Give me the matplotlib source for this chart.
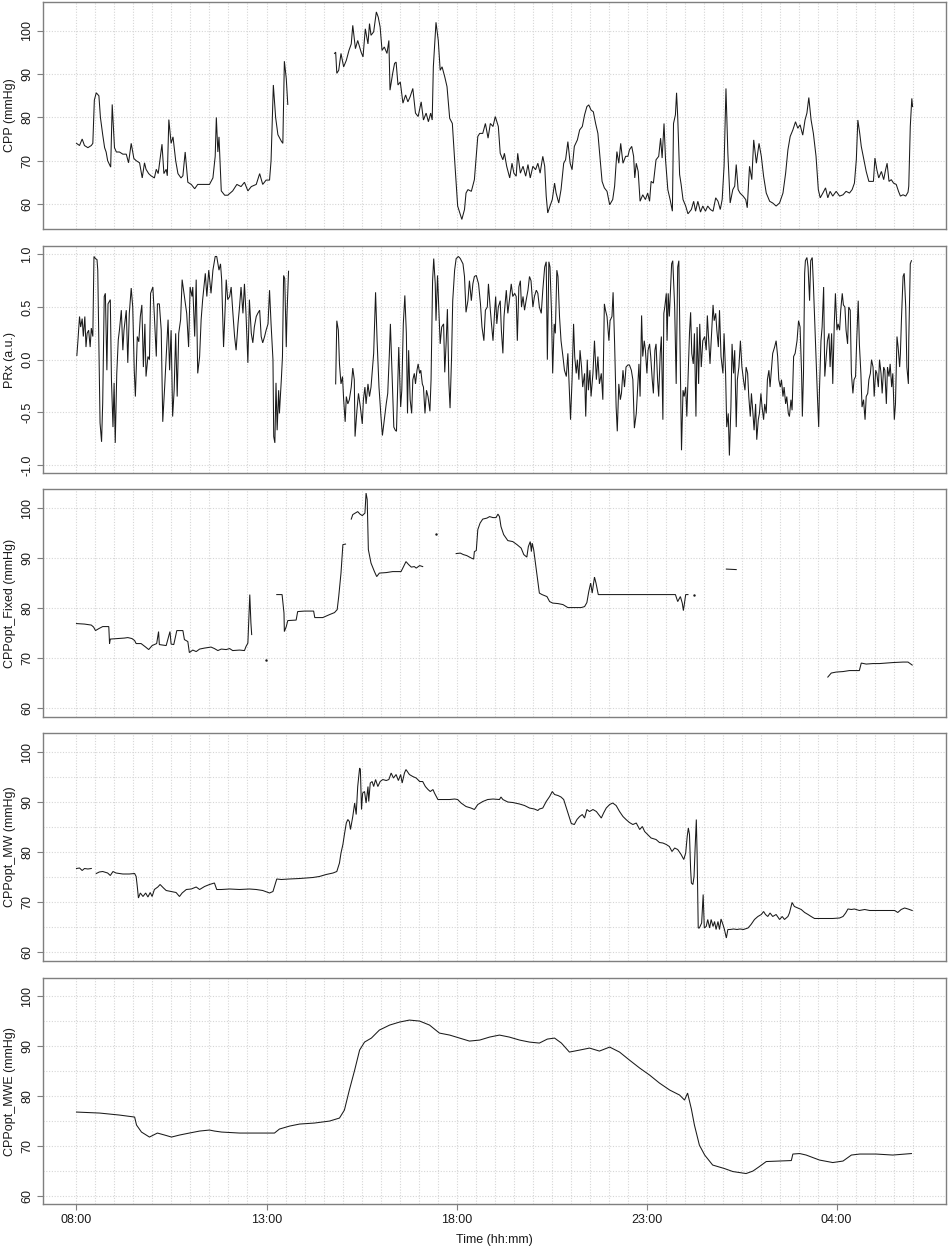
import numpy as np
import matplotlib
matplotlib.use("Agg")
import matplotlib.pyplot as plt

plt.rcParams['font.family'] = ['Liberation Sans', 'DejaVu Sans']
plt.rcParams['axes.unicode_minus'] = False

# time in hours after 08:00, value ; None marks a gap in the recording
cpp = [
    (0.00, 74), (0.08, 73.5), (0.15, 75), (0.21, 73.5), (0.30, 73), (0.39, 73.5), (0.43, 74), (0.47, 84), (0.52, 85.7), (0.59, 85),
    (0.63, 80), (0.69, 76), (0.74, 73), (0.78, 72), (0.82, 70), (0.90, 68.5), (0.94, 83), (1.00, 73), (1.05, 72), (1.13, 72),
    (1.22, 71.5), (1.31, 71.5), (1.37, 69.5), (1.44, 74), (1.51, 70.5), (1.57, 70), (1.66, 69.5), (1.73, 66), (1.79, 69.5), (1.83, 68),
    (1.90, 67), (1.96, 66.5), (2.05, 66), (2.10, 68), (2.15, 67), (2.25, 73.8), (2.30, 67), (2.36, 68), (2.39, 66.5), (2.43, 79.5),
    (2.49, 74), (2.54, 75.5), (2.61, 70), (2.67, 67), (2.75, 66), (2.80, 66.5), (2.86, 72), (2.93, 65), (3.02, 64.5), (3.11, 63.5),
    (3.19, 64.5), (3.28, 64.5), (3.41, 64.5), (3.50, 64.5), (3.59, 66), (3.65, 71), (3.68, 80), (3.72, 72), (3.75, 75.5), (3.81, 63),
    (3.90, 62), (3.98, 62), (4.11, 63), (4.22, 64.5), (4.33, 64), (4.42, 65), (4.51, 63), (4.60, 64), (4.73, 64.5), (4.82, 67),
    (4.90, 64.5), (4.99, 65.5), (5.08, 65.5), (5.12, 70), (5.18, 87.5), (5.24, 80), (5.30, 76), (5.39, 74.5), (5.43, 74), (5.47, 93),
    (5.52, 89), (5.56, 83), (6.2, None),
    (6.79, 94.8), (6.82, 95.1), (6.85, 90.2), (6.90, 90.9), (6.96, 94.8), (7.03, 91.7), (7.10, 93.2), (7.17, 95.5), (7.23, 97), (7.27, 101.3),
    (7.34, 95.9), (7.40, 97.8), (7.49, 95.1), (7.54, 94), (7.60, 100.5), (7.67, 97), (7.71, 101.7), (7.75, 99), (7.82, 99.8), (7.89, 104.4),
    (7.94, 103.2), (7.99, 100.9), (8.04, 95.5), (8.10, 96.3), (8.17, 94.8), (8.22, 97.8), (8.25, 86.3), (8.32, 90.2), (8.37, 92.5), (8.41, 92.8),
    (8.46, 87.5), (8.52, 88.2), (8.59, 83.3), (8.66, 85.2), (8.72, 83.6), (8.78, 84.8), (8.85, 86.7), (8.92, 81), (8.99, 80.2), (9.07, 83.6),
    (9.13, 79.4), (9.20, 81), (9.26, 79), (9.32, 81), (9.36, 79.4), (9.39, 91.7), (9.43, 97.8), (9.46, 102), (9.52, 97.8), (9.57, 90.9),
    (9.62, 91.7), (9.69, 89.4), (9.75, 87.1), (9.82, 79.8), (9.89, 78.6), (9.95, 70.2), (10.03, 59.5), (10.14, 56.4), (10.21, 58.7), (10.25, 62.5),
    (10.30, 63.3), (10.39, 62.9), (10.47, 65.6), (10.56, 75.6), (10.61, 76.3), (10.69, 76.3), (10.76, 78.6), (10.83, 75.2), (10.89, 78.6), (10.96, 77.9),
    (11.02, 80.2), (11.10, 77.9), (11.15, 71.7), (11.22, 70.2), (11.26, 71.7), (11.32, 68.7), (11.40, 66), (11.46, 69.4), (11.51, 67.1), (11.57, 66.4),
    (11.61, 71.7), (11.68, 67.1), (11.75, 68.7), (11.82, 66.4), (11.88, 69.1), (11.94, 66), (12.01, 68.7), (12.08, 67.9), (12.14, 69.4), (12.20, 67.1),
    (12.27, 71), (12.32, 68.7), (12.36, 61.8), (12.40, 57.9), (12.46, 59.5), (12.52, 61), (12.58, 64.8), (12.62, 62.5), (12.69, 60.2), (12.75, 63.3),
    (12.82, 69.4), (12.87, 70.2), (12.93, 74.4), (12.99, 69.4), (13.04, 67.9), (13.10, 73.3), (13.18, 74.8), (13.24, 77.1), (13.31, 77.9), (13.37, 80.6),
    (13.43, 82.5), (13.48, 82.9), (13.54, 81.7), (13.60, 81.3), (13.66, 78.6), (13.72, 76.3), (13.78, 70.2),
    (13.83, 65.2), (13.89, 63.7), (13.96, 62.9), (14.03, 59.8), (14.11, 61), (14.16, 64.1), (14.22, 72.1), (14.27, 69.4), (14.32, 74),
    (14.38, 69.4), (14.45, 71), (14.51, 71), (14.55, 72.5), (14.61, 73.3), (14.66, 71), (14.69, 66), (14.73, 69.4), (14.78, 67.5), (14.83, 60.6),
    (14.90, 62.1), (14.97, 61), (15.03, 62.5), (15.08, 60.6), (15.12, 65.2), (15.18, 64.8), (15.25, 70.2), (15.32, 71), (15.37, 75.2), (15.41, 70.6),
    (15.46, 78.6), (15.50, 70.2), (15.56, 63.3), (15.62, 61), (15.68, 58.3), (15.71, 78.6), (15.76, 80.6), (15.79, 85.7), (15.82, 80.2), (15.87, 66.8),
    (15.91, 64.5), (15.96, 61), (16.03, 59.5), (16.09, 57.7), (16.18, 58.7), (16.24, 60.6), (16.29, 58.3), (16.35, 60.6), (16.42, 58.1), (16.48, 59.5),
    (16.55, 58.3), (16.61, 59.5), (16.68, 58.7), (16.75, 58.3), (16.82, 61.4), (16.88, 60.6), (16.94, 58.7), (16.99, 61), (17.04, 68.7), (17.09, 86.7),
    (17.14, 71.7), (17.20, 60.2), (17.27, 63.3), (17.32, 64.1), (17.36, 69.1), (17.41, 63.3), (17.46, 62.5), (17.54, 61.8), (17.61, 61), (17.65, 59.1),
    (17.71, 68.7), (17.77, 65.6), (17.82, 74.8), (17.89, 69.4), (17.96, 74), (18.02, 71), (18.08, 66.4), (18.15, 62.5), (18.24, 60.6), (18.32, 60.2),
    (18.41, 59.5), (18.50, 60.2), (18.59, 62.5), (18.66, 67.1), (18.72, 72.5), (18.78, 75.6), (18.85, 77.1), (18.92, 79), (18.98, 77.5), (19.04, 78.3),
    (19.11, 75.9), (19.17, 79.4), (19.22, 81), (19.27, 84.6), (19.33, 79.4), (19.39, 76.3), (19.46, 71), (19.52, 63.3), (19.57, 61.4), (19.64, 62.5),
    (19.71, 63.7), (19.77, 61.4), (19.83, 62.9), (19.90, 61.8), (19.99, 62.9), (20.08, 61.8), (20.17, 62.1), (20.25, 62.9), (20.34, 62.5), (20.41, 63.3),
    (20.47, 64.8), (20.52, 70.2), (20.56, 79.4), (20.61, 76.3), (20.65, 73.3), (20.71, 70.6), (20.78, 67.5), (20.85, 65.2), (20.91, 65.2), (20.97, 65.2),
    (21.01, 70.6), (21.06, 67.9), (21.11, 66), (21.18, 67.5), (21.24, 65.6), (21.29, 67.9), (21.33, 69.4), (21.38, 65.2), (21.44, 65.6), (21.50, 64.8),
    (21.57, 64.5), (21.63, 62.9), (21.68, 61.8), (21.75, 62.1), (21.82, 61.8), (21.88, 62.7), (21.90, 64.1), (21.94, 77.9), (21.98, 84.4), (22.00, 82.5),
]

prx = [
    (0.01, 0.04), (0.04, 0.19), (0.08, 0.41), (0.11, 0.31), (0.15, 0.39), (0.18, 0.22), (0.22, 0.41), (0.25, 0.12), (0.28, 0.25), (0.32, 0.28),
    (0.36, 0.12), (0.39, 0.30), (0.43, 0.22), (0.46, 0.98), (0.50, 0.96), (0.54, 0.95), (0.56, 0.85), (0.59, 0.12), (0.62, -0.6), (0.66, -0.78),
    (0.69, -0.41), (0.73, 0.6), (0.76, 0.63), (0.80, -0.10), (0.83, 0.53), (0.89, 0.57), (0.92, -0.19), (0.96, -0.64), (0.99, -0.22), (1.02, -0.79),
    (1.06, -0.13), (1.10, 0.19), (1.13, 0.28), (1.18, 0.47), (1.22, 0.09), (1.25, 0.28), (1.31, 0.47), (1.35, -0.03), (1.39, 0.44), (1.44, 0.68),
    (1.48, 0.50), (1.52, -0.10), (1.55, -0.35), (1.60, 0.22), (1.64, 0.17), (1.68, 0.41), (1.72, 0.52), (1.76, -0.07), (1.80, 0.34), (1.83, -0.16),
    (1.88, 0.03), (1.92, 0.0), (1.95, 0.63), (2.01, 0.69), (2.05, 0.41), (2.10, 0.03), (2.13, 0.53), (2.18, 0.53), (2.23, 0.28), (2.27, -0.59),
    (2.32, -0.26), (2.36, 0.03), (2.41, 0.38), (2.45, -0.10), (2.49, 0.28), (2.53, -0.54), (2.57, -0.29), (2.61, 0.25), (2.65, -0.35), (2.69, 0.25),
    (2.74, 0.38), (2.78, 0.76), (2.84, 0.6), (2.90, 0.44), (2.95, 0.12), (2.99, 0.69), (3.04, 0.6), (3.06, 0.69), (3.11, 0.22), (3.15, 0.76),
    (3.19, -0.13), (3.24, 0.03), (3.28, 0.38), (3.32, 0.57), (3.39, 0.82), (3.43, 0.6), (3.48, 0.85), (3.54, 0.63), (3.59, 0.85), (3.65, 0.98),
    (3.69, 0.98), (3.75, 0.85), (3.79, 0.91), (3.82, 0.76), (3.87, 0.12), (3.90, 0.38), (3.94, 0.76), (3.98, 0.57), (4.03, 0.6), (4.07, 0.69),
    (4.11, 0.47), (4.16, 0.22), (4.20, 0.09), (4.25, 0.34), (4.29, 0.50), (4.33, 0.69), (4.38, 0.44), (4.42, 0.72), (4.46, 0.44), (4.51, -0.03),
    (4.55, 0.57), (4.60, 0.25), (4.64, 0.16), (4.68, 0.31), (4.73, 0.41), (4.77, 0.44), (4.82, 0.47), (4.86, 0.22), (4.90, 0.16), (4.95, 0.22),
    (4.99, 0.28), (5.04, 0.34), (5.08, 0.66), (5.12, 0.34), (5.17, 0.0), (5.19, -0.73), (5.22, -0.79), (5.25, -0.22), (5.28, -0.67), (5.32, -0.29),
    (5.34, -0.51), (5.39, -0.19), (5.42, 0.03), (5.45, 0.8), (5.48, 0.77), (5.52, 0.12), (5.54, 0.44), (5.58, 0.84), (6.2, None),
    (6.82, -0.23), (6.85, 0.37), (6.89, 0.28), (6.92, -0.04), (6.96, -0.23), (7.00, -0.16), (7.03, -0.38), (7.07, -0.59), (7.10, -0.35), (7.14, -0.42),
    (7.18, -0.38), (7.23, -0.26), (7.27, -0.08), (7.31, -0.19), (7.33, -0.73), (7.38, -0.48), (7.42, -0.32), (7.47, -0.45), (7.52, -0.61), (7.55, -0.38),
    (7.59, -0.26), (7.62, -0.42), (7.67, -0.23), (7.71, -0.35), (7.75, -0.26), (7.82, 0.06), (7.87, 0.64), (7.91, 0.18), (7.96, -0.26), (8.01, -0.53),
    (8.05, -0.72), (8.10, -0.57), (8.15, -0.42), (8.19, -0.32), (8.23, 0.03), (8.26, 0.34), (8.31, -0.19), (8.35, -0.64), (8.39, -0.67), (8.42, -0.68),
    (8.45, -0.26), (8.48, 0.12), (8.53, -0.45), (8.56, -0.29), (8.60, 0.34), (8.64, 0.61), (8.68, 0.25), (8.71, -0.51), (8.74, 0.09), (8.78, -0.38),
    (8.82, -0.51), (8.85, -0.19), (8.89, -0.13), (8.92, -0.23), (8.96, -0.10), (8.99, -0.04), (9.03, -0.13), (9.06, -0.10), (9.10, -0.23), (9.13, -0.26),
    (9.17, -0.51), (9.21, -0.29), (9.25, -0.35), (9.30, -0.49), (9.33, -0.19), (9.37, 0.75), (9.40, 0.96), (9.44, 0.72), (9.46, 0.37), (9.50, 0.80),
    (9.54, 0.44), (9.57, 0.15), (9.61, 0.31), (9.66, 0.34), (9.69, -0.12), (9.73, 0.18), (9.76, 0.48), (9.80, -0.23), (9.83, -0.46), (9.87, 0.03),
    (9.90, 0.56), (9.95, 0.85), (9.99, 0.96), (10.05, 0.98), (10.10, 0.96), (10.17, 0.91), (10.21, 0.79), (10.25, 0.45), (10.30, 0.56), (10.34, 0.75),
    (10.39, 0.56), (10.43, 0.72), (10.47, 0.79), (10.52, 0.80), (10.58, 0.72), (10.63, 0.53), (10.67, 0.31), (10.72, 0.18), (10.76, 0.47), (10.81, 0.50),
    (10.84, 0.72), (10.89, 0.47), (10.92, 0.34), (10.96, 0.18), (11.00, 0.44), (11.03, 0.60), (11.06, 0.34), (11.10, 0.50), (11.15, 0.56), (11.18, 0.28),
    (11.22, 0.06), (11.25, 0.41), (11.31, 0.66), (11.35, 0.44), (11.39, 0.56), (11.44, 0.72), (11.48, 0.60), (11.53, 0.63), (11.57, 0.60), (11.60, 0.18),
    (11.64, 0.69), (11.68, 0.75), (11.71, 0.50), (11.75, 0.60), (11.79, 0.47), (11.83, 0.56), (11.88, 0.66), (11.92, 0.79), (11.96, 0.75), (12.01, 0.50),
    (12.05, 0.60), (12.10, 0.66), (12.14, 0.63), (12.18, 0.50), (12.23, 0.44), (12.27, 0.66), (12.32, 0.88), (12.36, 0.93), (12.39, 0.0), (12.43, 0.93),
    (12.46, 0.88), (12.50, 0.44), (12.53, -0.13), (12.57, 0.34), (12.60, 0.25), (12.64, 0.85), (12.67, 0.79), (12.71, 0.41), (12.75, 0.18), (12.80, 0.03),
    (12.84, -0.10), (12.89, -0.16), (12.93, 0.06), (12.97, -0.29), (13.00, -0.57), (13.04, -0.19), (13.08, 0.34), (13.11, 0.03), (13.15, -0.13), (13.18, 0.0),
    (13.22, -0.19), (13.25, 0.09), (13.29, -0.07), (13.32, -0.26), (13.37, -0.13), (13.40, -0.54), (13.44, 0.0), (13.47, -0.29), (13.51, -0.10), (13.54, -0.35),
    (13.59, -0.13), (13.63, 0.18), (13.68, -0.19), (13.72, 0.03), (13.76, -0.23), (13.81, -0.13), (13.85, -0.38), (13.89, 0.53), (13.92, 0.47), (13.96, 0.41),
    (14.01, 0.18), (14.04, 0.37), (14.09, 0.41), (14.12, 0.64), (14.16, 0.15), (14.20, -0.45), (14.23, -0.68), (14.27, -0.23), (14.31, -0.38), (14.34, -0.32),
    (14.38, -0.10), (14.42, -0.26), (14.46, -0.07), (14.51, -0.05),
    (14.55, -0.05), (14.60, -0.10), (14.64, -0.19), (14.68, -0.65), (14.73, -0.51), (14.77, -0.23), (14.80, -0.04), (14.83, -0.35), (14.87, 0.42), (14.90, 0.03),
    (14.94, 0.18), (14.97, 0.09), (15.01, -0.13), (15.04, 0.09), (15.08, 0.15), (15.11, 0.03), (15.15, -0.19), (15.18, -0.32), (15.22, 0.09), (15.25, 0.15),
    (15.29, -0.19), (15.32, -0.35), (15.36, 0.06), (15.39, 0.22), (15.43, -0.57), (15.455, 0.44), (15.48, 0.50), (15.52, 0.63), (15.54, 0.18), (15.57, 0.63),
    (15.60, 0.41), (15.63, 0.66), (15.66, 0.91), (15.69, 0.94), (15.74, 0.50), (15.78, -0.23), (15.82, 0.88), (15.85, 0.94), (15.89, -0.07), (15.92, -0.86),
    (15.96, -0.29), (15.99, -0.35), (16.03, -0.26), (16.06, -0.54), (16.10, -0.10), (16.13, 0.25), (16.16, 0.45), (16.19, 0.06), (16.23, -0.04), (16.26, 0.25),
    (16.30, -0.54), (16.33, 0.31), (16.37, -0.23), (16.40, 0.34), (16.44, -0.07), (16.48, 0.18), (16.53, 0.22), (16.57, 0.09), (16.60, 0.42), (16.64, 0.15),
    (16.67, -0.04), (16.71, 0.25), (16.75, 0.52), (16.78, 0.37), (16.82, 0.44), (16.85, 0.28), (16.89, 0.12), (16.92, 0.47), (16.96, 0.03), (17.01, -0.13),
    (17.04, 0.25), (17.08, -0.13), (17.11, -0.64), (17.15, -0.51), (17.18, -0.91), (17.22, -0.45), (17.25, 0.15), (17.29, -0.13), (17.32, 0.09), (17.36, -0.64),
    (17.39, -0.19), (17.43, -0.07), (17.47, 0.18), (17.51, -0.07), (17.55, -0.19), (17.59, -0.29), (17.62, -0.07), (17.66, -0.13), (17.69, -0.35), (17.73, -0.54),
    (17.76, -0.32), (17.80, -0.51), (17.83, -0.67), (17.87, -0.42), (17.90, -0.76), (17.94, -0.57), (17.97, -0.51), (18.01, -0.32), (18.04, -0.45), (18.08, -0.57),
    (18.11, -0.42), (18.15, -0.51), (18.18, -0.19), (18.22, -0.10), (18.25, -0.26), (18.29, -0.07), (18.32, 0.06), (18.37, 0.12), (18.41, 0.18), (18.45, 0.03),
    (18.48, -0.19), (18.52, -0.26), (18.55, -0.19), (18.59, -0.35), (18.62, -0.26), (18.66, -0.42), (18.69, -0.35), (18.73, -0.51), (18.76, -0.54), (18.80, -0.38),
    (18.83, -0.48), (18.87, 0.03), (18.91, 0.06), (18.96, 0.18), (19.00, 0.37), (19.04, 0.31), (19.08, -0.13), (19.10, -0.54), (19.13, -0.13), (19.16, 0.82),
    (19.18, 0.94), (19.22, 0.97), (19.25, 0.88), (19.29, 0.56), (19.32, 0.94), (19.36, 0.97), (19.39, 0.72), (19.43, 0.31), (19.46, 0.03), (19.50, -0.38),
    (19.53, -0.64), (19.55, -0.29), (19.59, 0.18), (19.62, 0.31), (19.66, 0.69), (19.69, -0.16), (19.73, 0.03), (19.76, 0.18), (19.80, 0.25), (19.83, -0.07),
    (19.87, 0.25), (19.90, -0.23), (19.94, 0.34), (19.97, 0.63), (20.01, 0.28), (20.04, 0.34), (20.08, 0.28), (20.11, 0.47), (20.15, 0.63), (20.18, 0.52),
    (20.22, 0.50), (20.25, 0.28), (20.29, 0.15), (20.32, 0.50), (20.36, 0.47), (20.39, -0.13), (20.43, -0.32), (20.46, -0.19), (20.50, -0.16), (20.53, 0.18),
    (20.57, 0.56), (20.60, 0.15), (20.64, -0.13), (20.67, -0.45), (20.71, -0.38), (20.75, -0.57), (20.78, -0.35), (20.82, -0.32), (20.85, -0.19), (20.89, -0.13),
    (20.92, 0.0), (20.96, -0.07), (20.99, -0.35), (21.03, -0.10), (21.06, -0.13), (21.10, -0.26), (21.13, 0.0), (21.17, -0.13), (21.20, -0.32), (21.24, -0.07),
    (21.27, -0.10), (21.31, -0.42), (21.34, -0.07), (21.38, -0.16), (21.41, -0.04), (21.45, -0.26), (21.48, -0.13), (21.52, -0.57), (21.55, -0.42), (21.59, 0.22),
    (21.62, 0.12), (21.66, -0.07), (21.68, 0.06), (21.71, 0.41), (21.75, 0.79), (21.78, 0.82), (21.82, 0.50), (21.85, -0.07), (21.89, -0.23), (21.90, 0.18),
    (21.94, 0.91), (21.97, 0.94),
]

cppopt_fixed = [
    (0.00, 76.9), (0.21, 76.8), (0.39, 76.6), (0.45, 76.2), (0.50, 75.5), (0.59, 75.9), (0.69, 76.3), (0.85, 76.3), (0.87, 72.9), (0.89, 73.8),
    (1.09, 73.9), (1.26, 74.0), (1.35, 74.1), (1.46, 73.9), (1.53, 73.5), (1.57, 72.9), (1.70, 72.9), (1.82, 72.2), (1.90, 71.7), (1.99, 72.5),
    (2.11, 72.9), (2.16, 75.3), (2.18, 72.7), (2.36, 72.5), (2.46, 75.3), (2.49, 72.8), (2.56, 72.7), (2.64, 75.5), (2.80, 75.5), (2.84, 73.7),
    (2.93, 73.3), (2.97, 71.1), (3.06, 71.6), (3.15, 71.3), (3.24, 71.8), (3.37, 72.0), (3.54, 72.2), (3.63, 71.9), (3.72, 71.5), (3.81, 71.8),
    (3.94, 71.7), (4.03, 71.9), (4.11, 71.5), (4.29, 71.6), (4.42, 71.5), (4.46, 72.3), (4.51, 73.0), (4.53, 77.0), (4.56, 82.7), (4.59, 77.0),
    (4.61, 74.7), (4.8, None), (4.98, 69.6), (5.1, None),
    (5.27, 82.7), (5.41, 82.7), (5.46, 79.0), (5.47, 75.3), (5.52, 76.3), (5.56, 77.5), (5.78, 77.6), (5.82, 79.3), (6.00, 79.4), (6.24, 79.4),
    (6.27, 78.1), (6.48, 78.1), (6.66, 78.7), (6.79, 79.1), (6.86, 79.7), (6.90, 82.3), (6.96, 87.0), (7.01, 92.7), (7.08, 92.8), (7.15, None),
    (7.23, 97.8), (7.27, 98.7), (7.40, 99.3), (7.46, 98.8), (7.52, 98.5), (7.59, 99.0), (7.62, 103.0), (7.65, 101.7), (7.68, 91.7), (7.71, 90.5),
    (7.75, 89.0), (7.84, 87.3), (7.90, 86.3), (7.97, 87.0), (8.15, 87.1), (8.32, 87.3), (8.54, 87.3), (8.60, 88.2), (8.67, 89.3), (8.74, 88.7),
    (8.81, 88.2), (8.89, 88.3), (8.94, 88.0), (9.03, 88.5), (9.11, 88.3), (9.3, None), (9.46, 94.9), (9.7, None),
    (9.99, 90.9), (10.10, 91.0), (10.18, 90.7), (10.27, 90.5), (10.39, 90.0), (10.45, 89.8), (10.47, 91.3), (10.52, 91.5), (10.56, 95.7), (10.62, 97.0),
    (10.69, 97.8), (10.80, 98.0), (10.87, 98.3), (10.96, 98.1), (11.04, 98.1), (11.09, 98.8), (11.13, 98.3), (11.17, 96.3), (11.24, 94.7), (11.35, 93.5),
    (11.48, 93.3), (11.59, 92.7), (11.70, 92.0), (11.77, 90.7), (11.85, 90.2), (11.89, 92.3), (11.94, 93.3), (11.97, 91.3), (11.99, 93.0), (12.03, 91.7),
    (12.10, 87.7), (12.18, 83.0), (12.25, 82.7), (12.38, 82.3), (12.45, 81.3), (12.53, 81.0), (12.67, 80.9), (12.80, 80.7), (12.93, 80.1), (13.10, 80.1),
    (13.28, 80.1), (13.37, 80.3), (13.43, 81.1), (13.48, 83.3), (13.53, 85.0), (13.57, 83.0), (13.63, 86.2), (13.67, 85.0), (13.73, 82.7), (13.85, 82.7),
    (14.38, 82.7), (14.82, 82.7), (15.25, 82.7), (15.76, 82.7), (15.82, 81.3), (15.89, 82.3), (15.94, 81.0), (15.97, 79.5), (16.03, 82.7), (16.09, 82.7),
    (16.17, None), (16.24, 82.7), (16.6, None), (17.10, 87.8), (17.36, 87.7), (17.5, None),
    (19.77, 66.2), (19.86, 67.0), (19.99, 67.2), (20.17, 67.3), (20.34, 67.5), (20.52, 67.5), (20.60, 67.5), (20.65, 69.0), (20.78, 68.8), (20.96, 68.9),
    (21.13, 68.9), (21.31, 69.0), (21.48, 69.1), (21.75, 69.2), (21.88, 69.2), (21.99, 68.6),
]

cppopt_mw = [
    (0.00, 76.7), (0.08, 76.8), (0.15, 76.3), (0.21, 76.7), (0.30, 76.6), (0.39, 76.7), (0.45, None),
    (0.52, 75.7), (0.60, 76.0), (0.69, 76.1), (0.82, 75.8), (0.89, 75.3), (0.96, 76.1), (1.04, 75.8), (1.22, 75.6), (1.39, 75.6), (1.53, 75.7),
    (1.57, 75.1), (1.60, 73.1), (1.63, 70.8), (1.68, 71.8), (1.75, 71.1), (1.82, 71.8), (1.88, 71.0), (1.94, 71.9), (1.99, 71.1), (2.05, 72.5),
    (2.14, 73.0), (2.20, 73.5), (2.29, 72.8), (2.36, 72.3), (2.49, 72.1), (2.62, 71.9), (2.71, 71.1), (2.78, 71.8), (2.89, 72.5), (3.02, 72.6),
    (3.15, 73.0), (3.24, 72.5), (3.37, 73.1), (3.50, 73.5), (3.63, 73.8), (3.69, 72.5), (3.81, 72.5), (4.03, 72.6), (4.29, 72.5), (4.55, 72.6),
    (4.73, 72.5), (4.90, 72.3), (5.08, 71.8), (5.17, 72.1), (5.21, 73.1), (5.27, 74.6), (5.39, 74.5), (5.60, 74.6), (5.87, 74.7), (6.04, 74.8),
    (6.22, 74.9), (6.39, 75.1), (6.57, 75.5), (6.75, 75.8), (6.85, 76.1), (6.92, 77.8), (6.96, 79.8), (7.01, 81.5), (7.05, 83.5), (7.10, 85.8),
    (7.14, 86.5), (7.18, 86.1), (7.21, 84.5),
    (7.27, 87.1), (7.32, 89.8), (7.36, 87.5), (7.40, 93.1), (7.45, 96.8), (7.47, 96.5), (7.50, 88.5), (7.53, 91.8), (7.58, 92.1), (7.62, 89.8),
    (7.67, 93.1), (7.69, 90.1), (7.73, 93.8), (7.78, 94.1), (7.82, 93.1), (7.87, 94.5), (7.93, 93.1), (7.99, 94.1), (8.06, 94.5), (8.15, 94.3),
    (8.22, 94.5), (8.28, 95.8), (8.34, 94.8), (8.41, 95.5), (8.47, 94.3), (8.53, 95.5), (8.57, 93.8), (8.63, 95.8), (8.67, 96.5), (8.76, 95.5),
    (8.85, 95.1), (8.94, 94.8), (9.03, 94.1), (9.11, 94.1), (9.18, 93.1), (9.25, 92.5), (9.31, 92.1), (9.38, 92.5), (9.42, 91.8), (9.51, 90.5),
    (9.64, 90.5), (9.82, 90.5), (9.95, 90.6), (10.03, 90.5), (10.12, 89.8), (10.25, 89.1), (10.38, 88.8), (10.47, 88.5), (10.56, 89.5), (10.69, 90.1),
    (10.82, 90.5), (10.96, 90.6), (11.13, 90.5), (11.17, 91.0), (11.22, 90.5), (11.35, 90.0), (11.48, 89.9), (11.66, 89.6), (11.79, 89.3), (11.92, 88.8),
    (12.05, 88.6), (12.14, 88.3), (12.18, 88.6), (12.27, 88.8), (12.36, 90.1), (12.45, 91.1), (12.52, 92.1), (12.58, 91.5), (12.67, 91.3), (12.75, 91.0),
    (12.82, 90.5), (12.89, 88.8), (12.96, 87.1), (13.02, 85.7), (13.10, 85.5), (13.17, 86.5), (13.24, 87.1), (13.31, 87.5), (13.37, 86.8), (13.43, 88.5),
    (13.50, 88.1), (13.59, 88.5), (13.68, 88.1), (13.74, 87.5), (13.81, 86.8), (13.87, 87.8), (13.94, 88.8), (14.03, 89.5), (14.11, 89.8), (14.20, 89.3),
    (14.29, 88.1), (14.38, 87.1), (14.46, 86.5), (14.55, 85.9), (14.64, 85.5), (14.73, 85.8), (14.82, 84.5), (14.89, 85.1), (14.95, 84.1), (15.03, 83.5),
    (15.12, 82.8), (15.25, 82.5), (15.34, 81.9), (15.43, 81.8), (15.52, 81.5), (15.60, 81.1), (15.67, 80.1), (15.74, 80.8), (15.82, 80.5), (15.91, 79.5),
    (15.98, 78.5), (16.03, 79.8), (16.07, 83.1), (16.10, 84.8), (16.13, 83.5), (16.16, 76.5), (16.18, 73.8), (16.22, 73.5), (16.25, 75.1), (16.28, 81.1),
    (16.31, 86.5), (16.33, 79.8), (16.36, 64.8), (16.39, 64.8), (16.45, 65.8), (16.49, 71.5), (16.52, 64.8), (16.57, 65.1), (16.61, 66.5), (16.66, 64.8),
    (16.70, 66.5), (16.75, 65.1), (16.79, 66.1), (16.83, 64.5), (16.88, 66.1), (16.92, 64.5), (16.96, 66.6), (17.01, 65.5), (17.05, 64.5), (17.10, 62.8),
    (17.14, 64.5), (17.20, 64.5), (17.29, 64.6), (17.38, 64.5), (17.46, 64.6), (17.55, 64.5), (17.67, 64.8), (17.75, 65.5), (17.84, 66.5), (17.93, 67.1),
    (18.02, 67.5), (18.08, 68.1), (18.13, 67.5), (18.19, 67.1), (18.25, 67.8), (18.32, 67.1), (18.41, 67.5), (18.50, 66.5), (18.57, 67.1), (18.63, 66.5),
    (18.72, 67.1), (18.76, 67.8), (18.83, 69.9), (18.89, 69.1), (18.98, 68.8), (19.07, 68.5), (19.16, 67.9), (19.25, 67.5), (19.33, 67.1), (19.42, 66.7),
    (19.64, 66.7), (19.90, 66.7), (20.08, 66.8), (20.17, 67.1), (20.24, 67.8), (20.30, 68.6), (20.39, 68.5), (20.47, 68.6), (20.60, 68.3), (20.74, 68.5),
    (20.87, 68.3), (21.00, 68.3), (21.13, 68.3), (21.26, 68.3), (21.39, 68.3), (21.53, 68.3), (21.61, 67.9), (21.70, 68.5), (21.79, 68.8), (21.88, 68.6),
    (21.99, 68.3),
]

cppopt_mwe = [
    (0.00, 76.8), (0.61, 76.6), (1.13, 76.2), (1.53, 75.8), (1.58, 74.2), (1.71, 72.8), (1.92, 71.8), (2.13, 72.6), (2.32, 72.2), (2.50, 71.8),
    (2.71, 72.2), (2.97, 72.6), (3.24, 73.0), (3.50, 73.2), (3.63, 73.0), (3.82, 72.8), (4.29, 72.6), (4.82, 72.6), (5.21, 72.6), (5.34, 73.4),
    (5.61, 74.0), (5.87, 74.4), (6.26, 74.6), (6.66, 75.0), (6.92, 75.6), (7.05, 77.2), (7.18, 81.2), (7.32, 85.2), (7.45, 89.2), (7.58, 90.8),
    (7.76, 91.6), (7.97, 93.2), (8.24, 94.2), (8.50, 94.8), (8.76, 95.2), (9.03, 95.0), (9.29, 94.2), (9.55, 92.6), (9.82, 92.2), (10.08, 91.6),
    (10.34, 91.0), (10.61, 91.2), (10.87, 91.8), (11.13, 92.2), (11.39, 91.8), (11.66, 91.2), (11.92, 90.8), (12.18, 90.6), (12.39, 91.4), (12.58, 91.6),
    (12.76, 90.6), (12.97, 88.8), (13.24, 89.2), (13.50, 89.6), (13.76, 89.0), (14.03, 89.8), (14.29, 88.8), (14.55, 87.2), (14.82, 85.6), (15.08, 84.2),
    (15.34, 82.6), (15.61, 81.2), (15.87, 80.2), (16.00, 79.2), (16.08, 80.6), (16.18, 77.4), (16.26, 74.2), (16.39, 70.2), (16.53, 68.2), (16.74, 66.2),
    (17.05, 65.5), (17.27, 64.9), (17.62, 64.5), (17.80, 65.0), (17.97, 65.9), (18.15, 66.9), (18.81, 67.1), (18.85, 68.4), (19.03, 68.5), (19.20, 68.2),
    (19.55, 67.2), (19.90, 66.7), (20.17, 67.0), (20.39, 68.2), (20.61, 68.4), (21.04, 68.4), (21.48, 68.2), (21.97, 68.5),
]

ylabels = ["CPP (mmHg)", "PRx (a.u.)", "CPPopt_Fixed (mmHg)", "CPPopt_MW (mmHg)", "CPPopt_MWE (mmHg)"]
time_ticks = [0, 5, 10, 15, 20]
time_labels = ["08:00", "13:00", "18:00", "23:00", "04:00"]

LINE = "#1a1a1a"
FRAME = "#7f7f7f"
GRID = "#d6d6d6"


def draw_series(ax, data):
    arr = np.array(data, dtype=float)
    t, v = arr[:, 0], arr[:, 1]
    ax.plot(t, v, color=LINE, lw=0.75, solid_joinstyle="miter")
    ok = ~np.isnan(v)
    prev = np.r_[False, ok[:-1]]
    nxt = np.r_[ok[1:], False]
    lone = ok & ~prev & ~nxt
    ax.plot(t[lone], v[lone], "s", ms=0.7, color=LINE)


fig = plt.figure(figsize=(9.48, 12.49), dpi=100)

# axes boxes in figure fraction (left, bottom, width, height)
boxes = [
    (0.0454, 0.8167, 0.9525, 0.1817),
    (0.0454, 0.6213, 0.9525, 0.1817),
    (0.0454, 0.4259, 0.9525, 0.1825),
    (0.0454, 0.2306, 0.9525, 0.1825),
    (0.0454, 0.0360, 0.9525, 0.1809),
]
series = [cpp, prx, cppopt_fixed, cppopt_mw, cppopt_mwe]
ylims = [(54.2, 106.7), (-1.076, 1.079), (58.2, 103.8), (58.2, 103.8), (58.4, 103.6)]
yticks = [
    [60, 70, 80, 90, 100],
    [-1.0, -0.5, 0.0, 0.5, 1.0],
    [60, 70, 80, 90, 100],
    [60, 70, 80, 90, 100],
    [60, 70, 80, 90, 100],
]
ytick_fmt = ["{:.0f}", "{:.1f}", "{:.0f}", "{:.0f}", "{:.0f}"]
hgrids = [
    np.arange(60, 101, 10),
    np.arange(-1.0, 1.01, 0.5),
    np.arange(60, 101, 10),
    np.arange(60, 101, 5),
    np.arange(60, 101, 5),
]

for i, box in enumerate(boxes):
    ax = fig.add_axes(box)
    ax.set_xlim(-0.88, 22.88)
    ax.set_ylim(*ylims[i])

    for xv in np.arange(0, 22.01, 0.5):
        ax.axvline(xv, color=GRID, lw=0.8, ls=(0, (1, 1.5)), zorder=0)
    for yv in hgrids[i]:
        ax.axhline(yv, color=GRID, lw=0.8, ls=(0, (1, 1.5)), zorder=0)

    draw_series(ax, series[i])

    for sp in ax.spines.values():
        sp.set_color(FRAME)
        sp.set_linewidth(1.0)

    ax.set_yticks(yticks[i])
    ax.set_yticklabels([ytick_fmt[i].format(y) for y in yticks[i]])
    ax.tick_params(axis="y", direction="out", length=4, width=0.8, color=FRAME,
                   labelsize=9, labelcolor="#1a1a1a", pad=3, labelrotation=90)
    for lab in ax.get_yticklabels():
        lab.set_va("center")
    ax.set_ylabel(ylabels[i], fontsize=9, color="#1a1a1a")
    ax.yaxis.set_label_coords(-0.0365, 0.5)
    ax.yaxis.label.set_va("center")

    if i == len(boxes) - 1:
        ax.set_xticks(time_ticks)
        ax.set_xticklabels(time_labels)
        ax.tick_params(axis="x", direction="out", length=4, width=0.8, color=FRAME,
                       labelsize=9, labelcolor="#1a1a1a", pad=3.5)
        ax.set_xlabel("Time (hh:mm)", fontsize=9, color="#1a1a1a")
        ax.xaxis.set_label_coords(0.5, -0.159)
        ax.xaxis.label.set_va("center")
    else:
        ax.set_xticks([])

fig.savefig("out.png", dpi=100)
